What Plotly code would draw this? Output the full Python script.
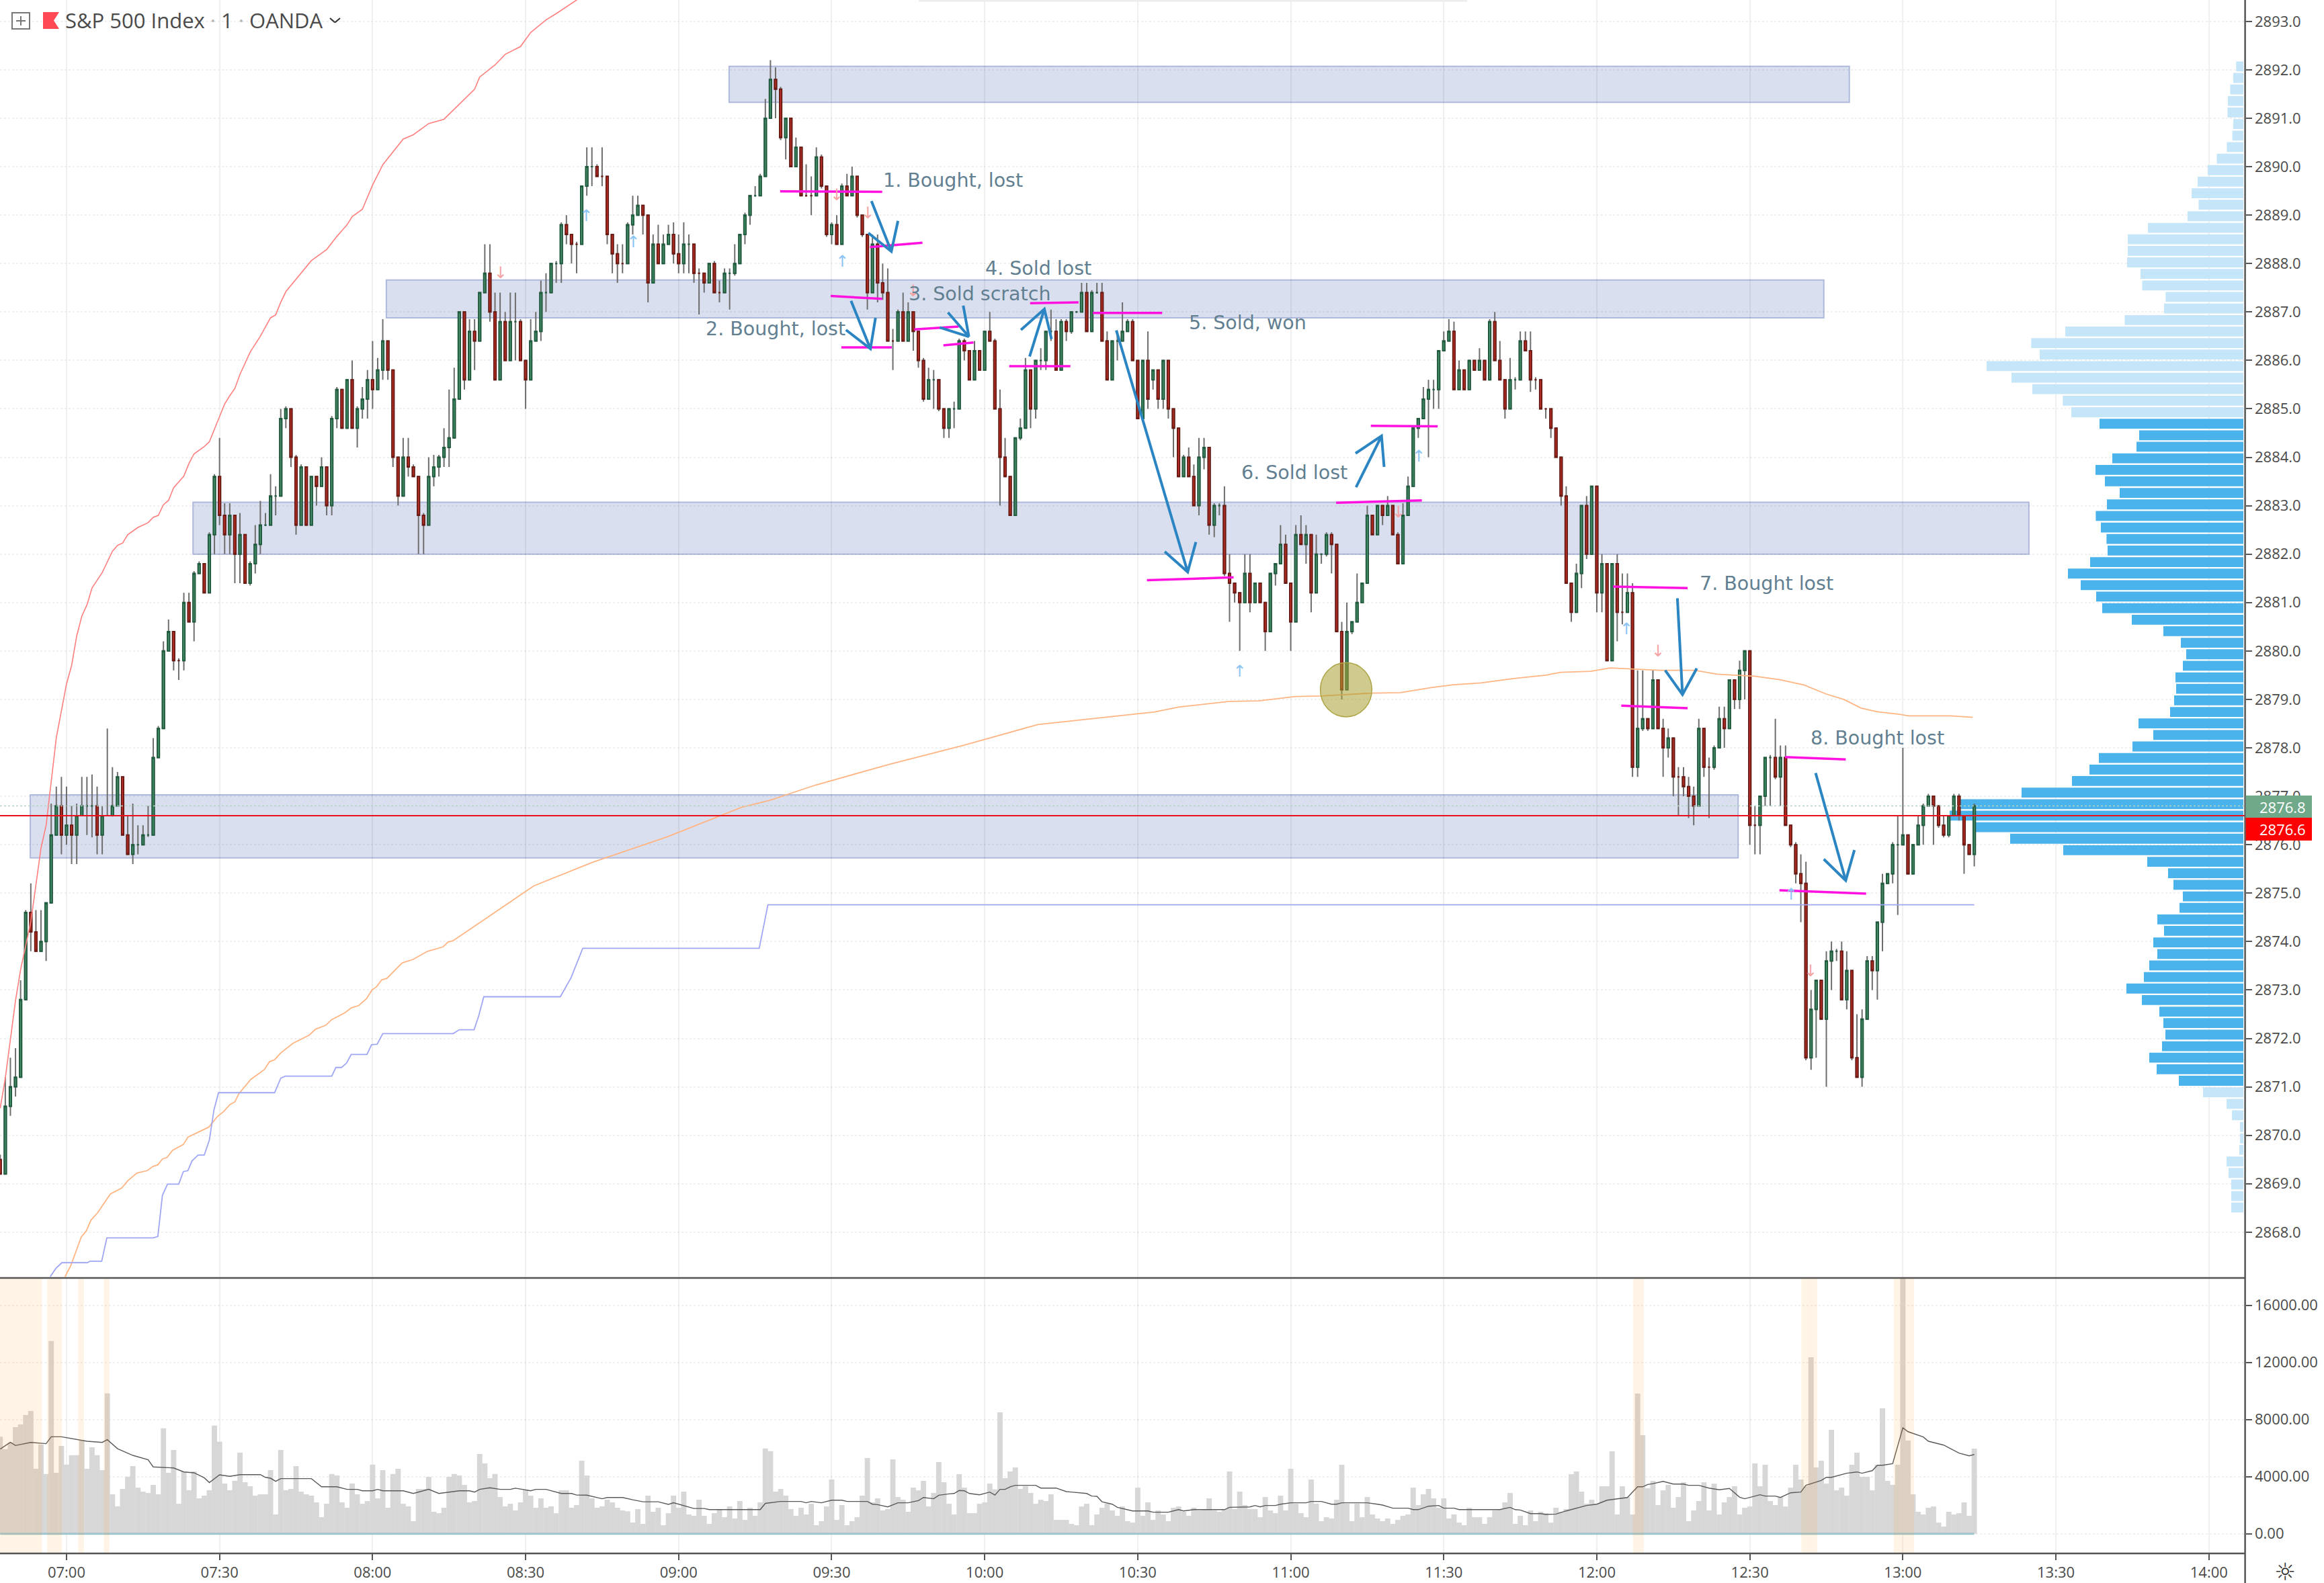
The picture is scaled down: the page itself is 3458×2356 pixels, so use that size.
import plotly.graph_objects as go

W, H = 3458, 2356
AXIS_X, PANE_Y, BOTTOM_Y = 3340.6, 1902, 2312
FONT = "Open Sans"

opens = [
2869.5,2869.2,2870.6,2871.0,2871.2,2872.8,2874.6,2874.2,2873.8,2874.0,
2874.8,2876.2,2876.8,2876.2,2876.4,2876.2,2876.6,2876.8,2876.8,2876.8,
2876.2,2876.6,2876.6,2876.8,2877.4,2876.2,2875.8,2876.0,2876.0,2876.2,
2876.2,2877.8,2878.4,2880.0,2880.4,2879.8,2879.8,2881.0,2880.6,2881.6,
2881.8,2881.2,2882.4,2883.6,2882.8,2882.4,2882.8,2882.0,2882.4,2881.4,
2881.8,2882.2,2882.6,2882.6,2883.2,2883.2,2884.8,2885.0,2884.0,2882.6,
2883.8,2882.6,2883.6,2883.4,2883.8,2883.0,2884.8,2885.4,2884.6,2885.6,
2884.6,2885.0,2885.2,2885.6,2885.4,2885.8,2886.4,2885.8,2884.0,2883.2,
2884.0,2883.8,2883.6,2882.8,2882.6,2883.6,2883.8,2884.0,2884.2,2884.4,
2885.2,2887.0,2885.6,2886.6,2886.4,2887.4,2887.8,2887.0,2885.6,2886.8,
2886.0,2886.8,2886.8,2886.0,2885.6,2886.4,2886.6,2887.4,2887.4,2888.0,
2888.0,2888.8,2888.6,2888.4,2888.4,2889.6,2890.0,2890.0,2889.8,2889.8,
2888.6,2888.2,2888.0,2888.0,2888.8,2889.0,2889.2,2889.0,2887.6,2888.4,
2888.0,2888.4,2888.6,2888.2,2888.0,2888.4,2888.4,2887.8,2887.8,2887.6,
2888.0,2887.4,2887.4,2887.8,2887.8,2888.0,2888.6,2889.0,2889.4,2889.4,
2889.8,2891.0,2891.8,2891.6,2890.6,2891.0,2890.0,2890.4,2889.4,2889.4,
2889.4,2890.2,2889.6,2888.6,2888.8,2888.4,2889.6,2889.4,2889.8,2889.0,
2888.6,2887.4,2888.4,2887.6,2887.4,2886.4,2886.4,2887.0,2886.4,2887.0,
2886.6,2886.0,2885.2,2885.6,2885.6,2885.0,2884.6,2885.0,2885.0,2886.4,
2886.2,2885.6,2886.2,2885.8,2886.6,2886.4,2885.0,2884.0,2883.6,2882.8,
2884.4,2884.6,2885.8,2885.0,2886.0,2886.0,2886.6,2886.6,2885.8,2886.8,
2886.6,2887.0,2887.0,2887.4,2886.6,2887.4,2887.4,2886.4,2885.6,2886.4,
2886.4,2886.6,2886.8,2886.0,2884.8,2886.0,2885.6,2885.8,2885.2,2886.0,
2885.0,2884.6,2883.6,2884.0,2883.6,2883.0,2884.0,2884.2,2882.6,2883.0,
2883.0,2881.6,2881.4,2881.2,2881.0,2881.6,2881.0,2881.4,2881.0,2880.4,
2881.6,2881.8,2882.2,2881.4,2880.6,2882.4,2882.2,2882.4,2881.2,2882.0,
2882.0,2882.4,2882.2,2880.4,2879.2,2880.4,2880.6,2881.0,2881.4,2882.8,
2882.4,2883.0,2882.8,2883.0,2882.4,2881.8,2882.8,2883.4,2884.6,2884.8,
2885.2,2885.4,2885.4,2886.2,2886.4,2886.6,2885.4,2885.8,2885.4,2886.0,
2885.8,2886.0,2885.6,2886.8,2886.0,2885.6,2885.0,2885.6,2885.6,2886.4,
2886.2,2885.6,2885.6,2885.0,2885.0,2884.6,2884.0,2883.2,2881.4,2880.8,
2881.6,2883.0,2882.0,2883.4,2881.2,2881.8,2879.8,2881.8,2880.8,2880.8,
2881.2,2877.6,2878.4,2878.6,2878.4,2879.4,2878.4,2878.0,2878.2,2877.4,
2877.4,2877.2,2877.0,2876.8,2878.4,2877.6,2877.6,2878.0,2878.6,2878.4,
2879.4,2879.0,2879.6,2880.0,2876.4,2876.4,2877.0,2877.8,2877.8,2877.4,
2877.8,2876.4,2876.0,2875.4,2875.2,2871.6,2872.6,2873.2,2872.4,2873.6,
2873.8,2873.8,2872.8,2873.4,2871.6,2871.2,2872.4,2873.6,2873.4,2874.4,
2875.2,2875.4,2876.0,2876.0,2876.2,2875.4,2876.0,2876.4,2876.8,2877.0,
2876.8,2876.4,2876.2,2876.6,2877.0,2876.6,2876.0,2875.8]

highs = [
2869.6,2871.2,2871.6,2871.8,2873.2,2874.65,2875.2,2874.65,2874.65,2874.8,
2876.85,2877.2,2877.4,2877.2,2876.8,2876.85,2877.4,2877.4,2877.45,2877.2,
2876.8,2878.4,2877.6,2877.5,2877.4,2876.6,2876.85,2876.4,2876.4,2876.8,
2878.2,2878.45,2880.2,2880.65,2880.4,2879.85,2881.2,2881.2,2881.65,2881.85,
2881.8,2882.45,2883.65,2884.4,2883.05,2883.05,2882.8,2882.85,2882.4,2881.85,
2882.6,2883.1,2882.85,2883.65,2883.4,2885.0,2885.05,2885.0,2884.05,2883.85,
2883.8,2883.6,2883.6,2884.0,2883.8,2884.85,2885.45,2885.4,2885.6,2886.0,
2885.05,2885.45,2885.8,2886.4,2886.05,2886.85,2886.4,2885.8,2884.0,2884.4,
2884.4,2883.85,2883.6,2882.85,2884.0,2884.05,2884.05,2884.6,2885.4,2885.85,
2887.0,2887.0,2886.85,2886.85,2887.4,2888.4,2888.4,2887.4,2887.4,2887.0,
2887.4,2887.4,2886.85,2886.0,2886.85,2887.0,2887.65,2887.8,2888.0,2888.05,
2888.85,2889.0,2888.6,2888.45,2889.6,2890.4,2890.4,2890.05,2890.4,2889.8,
2888.6,2888.4,2888.4,2888.85,2889.4,2889.4,2889.2,2889.0,2888.6,2888.8,
2888.6,2888.8,2888.85,2888.6,2888.85,2888.6,2888.4,2887.9,2887.8,2888.0,
2888.05,2887.65,2887.9,2887.9,2888.4,2888.6,2889.05,2889.4,2889.6,2889.85,
2891.4,2892.2,2892.05,2891.65,2891.0,2891.0,2890.6,2890.4,2890.05,2889.8,
2890.4,2890.25,2889.6,2888.85,2889.0,2889.65,2889.85,2890.0,2889.8,2889.0,
2888.6,2888.6,2888.6,2888.0,2887.9,2886.65,2887.05,2887.4,2887.2,2887.0,
2886.6,2886.05,2885.85,2885.8,2885.6,2885.0,2885.0,2885.15,2886.45,2886.45,
2886.2,2886.4,2886.2,2886.6,2887.0,2886.45,2885.4,2884.4,2883.6,2884.4,
2884.8,2886.05,2885.8,2886.0,2886.25,2886.6,2887.05,2886.85,2886.85,2886.85,
2887.0,2887.0,2887.6,2887.6,2887.45,2887.6,2887.6,2886.6,2886.4,2886.6,
2887.2,2886.85,2886.85,2886.0,2886.0,2886.6,2885.8,2885.8,2886.0,2886.0,
2885.0,2884.6,2884.05,2884.2,2883.85,2884.4,2884.4,2884.2,2883.05,2883.05,
2883.4,2882.0,2881.4,2881.2,2882.0,2882.0,2881.4,2881.4,2881.0,2881.6,
2881.8,2882.6,2882.4,2881.4,2882.6,2882.8,2882.6,2882.4,2882.4,2882.0,
2882.45,2882.45,2882.2,2880.6,2881.0,2880.6,2881.6,2881.4,2883.0,2882.8,
2883.0,2883.0,2883.2,2883.0,2882.45,2883.05,2883.6,2884.6,2884.8,2885.45,
2885.6,2885.6,2886.2,2886.6,2886.85,2886.8,2886.0,2885.8,2886.0,2886.0,
2886.25,2886.0,2886.85,2887.0,2886.4,2885.6,2886.05,2885.65,2886.6,2886.6,
2886.6,2885.65,2885.6,2885.0,2885.0,2884.6,2884.0,2883.4,2881.4,2881.8,
2883.0,2883.2,2883.4,2883.4,2882.0,2881.8,2881.8,2882.0,2881.6,2881.6,
2881.4,2879.6,2879.6,2878.6,2879.6,2879.4,2878.6,2878.4,2878.2,2877.6,
2877.6,2877.4,2877.2,2878.6,2878.4,2877.8,2878.05,2878.85,2878.85,2879.4,
2879.4,2879.8,2880.0,2880.0,2876.8,2877.0,2877.8,2877.85,2878.6,2878.05,
2878.05,2876.4,2876.05,2875.8,2875.65,2873.0,2873.2,2873.2,2873.8,2874.0,
2873.85,2874.0,2873.8,2873.4,2872.5,2872.6,2873.7,2873.7,2874.4,2875.4,
2875.4,2876.05,2876.6,2878.0,2876.2,2876.0,2876.6,2876.85,2877.05,2877.0,
2876.8,2876.6,2876.6,2877.05,2877.05,2876.6,2876.0,2876.85]

lows = [
2869.2,2869.2,2870.4,2870.8,2871.2,2872.8,2873.8,2873.8,2873.8,2873.6,
2874.8,2876.2,2875.8,2876.0,2875.6,2875.6,2876.6,2876.2,2876.15,2875.8,
2875.8,2876.6,2876.58,2876.8,2876.2,2875.8,2875.6,2875.8,2876.0,2876.16,
2876.2,2877.8,2878.4,2880.0,2879.6,2879.4,2879.6,2880.6,2880.2,2881.6,
2881.2,2881.2,2882.0,2882.6,2882.0,2882.0,2881.4,2881.4,2881.4,2881.35,
2881.6,2882.0,2882.58,2882.6,2882.8,2883.2,2884.6,2883.8,2882.4,2882.6,
2882.6,2882.6,2883.0,2883.4,2882.8,2882.8,2884.6,2884.6,2884.6,2884.6,
2884.2,2884.8,2884.8,2885.0,2885.4,2885.6,2885.6,2883.8,2883.0,2883.2,
2883.6,2883.6,2882.0,2882.0,2882.6,2883.4,2883.6,2883.8,2883.8,2884.4,
2885.2,2885.4,2885.6,2885.8,2886.4,2887.4,2886.8,2885.6,2885.6,2886.0,
2886.0,2886.0,2886.0,2885.0,2885.6,2886.4,2886.4,2887.0,2887.4,2887.6,
2887.6,2888.4,2888.0,2887.8,2888.4,2889.4,2889.6,2889.8,2889.6,2888.4,
2887.8,2887.6,2887.8,2888.0,2888.6,2889.0,2888.6,2887.2,2887.6,2888.0,
2888.0,2888.4,2888.0,2887.8,2887.8,2887.8,2887.6,2886.95,2887.4,2887.6,
2887.4,2887.2,2887.4,2887.05,2887.75,2888.0,2888.4,2888.8,2889.38,2889.4,
2889.8,2891.0,2891.0,2890.55,2890.15,2890.0,2890.0,2889.4,2889.38,2889.0,
2889.4,2889.55,2888.55,2888.4,2888.4,2888.4,2889.4,2889.4,2888.95,2888.55,
2887.05,2887.4,2887.2,2887.25,2886.4,2885.8,2886.4,2886.4,2886.4,2886.2,
2885.85,2885.15,2885.2,2885.0,2884.95,2884.4,2884.4,2884.6,2885.0,2886.0,
2885.6,2885.6,2885.8,2885.8,2886.4,2885.0,2883.0,2883.6,2882.8,2882.8,
2884.35,2884.6,2884.6,2884.8,2885.8,2885.8,2886.4,2885.8,2885.8,2886.4,
2886.55,2886.98,2887.0,2886.6,2886.6,2887.38,2886.4,2885.6,2885.6,2886.0,
2886.4,2886.6,2886.0,2884.8,2884.8,2885.0,2885.4,2885.0,2885.0,2884.8,
2884.0,2883.6,2883.6,2883.6,2883.0,2882.8,2883.75,2882.4,2882.35,2882.8,
2881.55,2880.6,2881.0,2880.0,2881.0,2880.8,2881.0,2881.0,2880.0,2880.4,
2881.35,2881.8,2881.4,2880.0,2880.6,2882.2,2881.8,2880.8,2881.2,2881.8,
2881.95,2881.6,2880.4,2879.0,2879.2,2880.35,2880.6,2881.0,2881.4,2882.4,
2882.4,2882.6,2882.8,2882.4,2881.8,2881.8,2882.8,2883.4,2884.4,2884.8,
2884.0,2885.0,2885.0,2886.2,2886.4,2885.4,2885.4,2885.4,2885.4,2885.8,
2885.8,2885.6,2885.6,2886.0,2885.6,2884.8,2885.0,2885.4,2885.6,2886.2,
2885.35,2885.4,2885.0,2884.8,2884.4,2884.0,2883.0,2881.4,2880.6,2880.8,
2881.3,2881.9,2882.0,2880.8,2880.8,2879.8,2879.8,2880.2,2880.55,2880.8,
2877.4,2877.4,2878.35,2878.35,2878.4,2878.4,2877.4,2877.8,2877.0,2876.6,
2877.0,2876.55,2876.4,2876.8,2877.4,2876.55,2877.55,2878.0,2878.0,2878.4,
2878.8,2878.8,2879.0,2876.0,2875.8,2875.8,2876.8,2876.8,2877.35,2876.8,
2876.4,2875.95,2875.2,2874.4,2871.55,2871.35,2871.6,2872.4,2871.0,2873.0,
2873.6,2872.8,2872.6,2871.55,2871.2,2871.0,2872.4,2873.0,2872.8,2873.8,
2875.2,2875.2,2874.55,2876.0,2875.38,2875.38,2876.0,2876.0,2876.8,2876.0,
2876.35,2876.15,2876.15,2876.6,2876.5,2875.4,2875.8,2875.55]

closes = [
2869.2,2870.6,2871.0,2871.2,2872.8,2874.6,2874.2,2873.8,2874.0,2874.8,
2876.2,2876.8,2876.2,2876.4,2876.2,2876.6,2876.8,2876.8,2876.8,2876.2,
2876.6,2876.6,2876.8,2877.4,2876.2,2875.8,2876.0,2876.0,2876.2,2876.2,
2877.8,2878.4,2880.0,2880.4,2879.8,2879.8,2881.0,2880.6,2881.6,2881.8,
2881.2,2882.4,2883.6,2882.8,2882.4,2882.8,2882.0,2882.4,2881.4,2881.8,
2882.2,2882.6,2882.6,2883.2,2883.2,2884.8,2885.0,2884.0,2882.6,2883.8,
2882.6,2883.6,2883.4,2883.8,2883.0,2884.8,2885.4,2884.6,2885.6,2884.6,
2885.0,2885.2,2885.6,2885.4,2885.8,2886.4,2885.8,2884.0,2883.2,2884.0,
2883.8,2883.6,2882.8,2882.6,2883.6,2883.8,2884.0,2884.2,2884.4,2885.2,
2887.0,2885.6,2886.6,2886.4,2887.4,2887.8,2887.0,2885.6,2886.8,2886.0,
2886.8,2886.8,2886.0,2885.6,2886.4,2886.6,2887.4,2887.4,2888.0,2888.0,
2888.8,2888.6,2888.4,2888.4,2889.6,2890.0,2890.0,2889.8,2889.8,2888.6,
2888.2,2888.0,2888.0,2888.8,2889.0,2889.2,2889.0,2887.6,2888.4,2888.0,
2888.4,2888.6,2888.2,2888.0,2888.4,2888.4,2887.8,2887.8,2887.6,2888.0,
2887.4,2887.4,2887.8,2887.8,2888.0,2888.6,2889.0,2889.4,2889.4,2889.8,
2891.0,2891.8,2891.6,2890.6,2891.0,2890.0,2890.4,2889.4,2889.4,2889.4,
2890.2,2889.6,2888.6,2888.8,2888.4,2889.6,2889.4,2889.8,2889.0,2888.6,
2887.4,2888.4,2887.6,2887.4,2886.4,2886.4,2887.0,2886.4,2887.0,2886.6,
2886.0,2885.2,2885.6,2885.6,2885.0,2884.6,2885.0,2885.0,2886.4,2886.2,
2885.6,2886.2,2885.8,2886.6,2886.4,2885.0,2884.0,2883.6,2882.8,2884.4,
2884.6,2885.8,2885.0,2886.0,2886.0,2886.6,2886.6,2885.8,2886.8,2886.6,
2887.0,2887.0,2887.4,2886.6,2887.4,2887.4,2886.4,2885.6,2886.4,2886.4,
2886.6,2886.8,2886.0,2884.8,2886.0,2885.2,2885.8,2885.2,2886.0,2885.0,
2884.6,2883.6,2884.0,2883.6,2883.0,2884.0,2884.2,2882.6,2883.0,2883.0,
2881.6,2881.4,2881.2,2881.0,2881.6,2881.0,2881.4,2881.0,2880.4,2881.6,
2881.8,2882.2,2881.4,2880.6,2882.4,2882.2,2882.4,2881.2,2882.0,2882.0,
2882.4,2882.2,2880.4,2879.2,2880.4,2880.6,2881.0,2881.4,2882.8,2882.4,
2883.0,2882.8,2883.0,2882.4,2881.8,2882.8,2883.4,2884.6,2884.8,2885.2,
2885.4,2885.4,2886.2,2886.4,2886.6,2885.4,2885.8,2885.4,2886.0,2885.8,
2886.0,2885.6,2886.8,2886.0,2885.6,2885.0,2885.6,2885.6,2886.4,2886.2,
2885.6,2885.6,2885.0,2885.0,2884.6,2884.0,2883.2,2881.4,2880.8,2881.6,
2883.0,2882.0,2883.4,2881.2,2881.8,2879.8,2881.8,2880.8,2880.8,2881.2,
2877.6,2878.4,2878.6,2878.4,2879.4,2878.4,2878.0,2878.2,2877.4,2877.4,
2877.2,2877.0,2876.8,2878.4,2877.6,2877.6,2878.0,2878.6,2878.4,2879.4,
2879.0,2879.6,2880.0,2876.4,2876.4,2877.0,2877.8,2877.8,2877.4,2877.8,
2876.4,2876.0,2875.4,2875.2,2871.6,2872.6,2873.2,2872.4,2873.6,2873.8,
2873.8,2872.8,2873.4,2871.6,2871.2,2872.4,2873.6,2873.4,2874.4,2875.2,
2875.4,2876.0,2876.0,2876.2,2875.4,2876.0,2876.4,2876.8,2877.0,2876.8,
2876.4,2876.2,2876.6,2877.0,2876.6,2876.0,2875.8,2876.8]

volumes = [
6800,5930,6400,7470,7660,8320,8600,4550,6250,4180,13500,4270,6150,4840,5500,5500,6560,4550,6060,5500,
4460,9830,2760,1920,3140,3990,4740,3230,2950,2860,3420,2760,7380,4270,5870,2100,4360,3050,4360,2480,
2670,3050,7570,6440,3520,3050,3710,5680,3610,3330,2670,2760,2760,4460,1350,5870,3050,3140,4740,2950,
2760,2670,2200,1160,2100,4180,4080,2200,1820,3520,2760,2100,2290,4840,2480,4460,1820,4180,4550,2100,
1920,880,3140,3140,3990,1540,1440,1820,3990,4180,4080,3420,2200,2290,5590,4930,3890,4180,2570,1920,
2100,1630,2200,3080,2670,1820,2480,1820,1920,1440,3050,3050,1820,2010,5120,4080,2480,1820,1920,2390,
2200,1820,1630,1570,790,1730,690,2670,1540,1820,600,1440,2670,1820,2950,1350,1260,2390,1260,690,
1440,1730,1160,1920,1070,2290,970,1820,1260,2200,5970,5780,
2950,3140,2670,1730,1260,1820,1350,2100,600,880,1910,3800,970,2010,600,880,1160,2670,5300,2200,
2480,1630,1730,5210,2570,2380,1540,3230,3040,3700,1910,2860,5020,3610,2100,1350,4170,3230,1440,1440,
2100,2200,3510,3110,8500,3890,4360,4640,3140,3330,2860,2100,2380,2290,2760,970,970,970,690,600,
1910,2100,600,1350,1820,2100,1630,1260,1910,880,780,3230,1260,2200,970,1630,1350,880,1820,1910,
1540,1260,1820,1630,1730,2480,1630,1540,1730,4360,1730,2950,2010,1730,1730,1160,2570,1630,1440,2670,
1630,4550,2100,1440,1160,3800,2100,880,1160,1070,2380,4830,2100,880,2100,1160,2570,1350,1070,880,
1070,690,970,1260,1350,3230,2010,2760,3140,2480,1820,2480,1070,1350,780,600,1820,1160,1160,690,
1160,1630,1730,2200,2860,690,1260,600,1630,880,1540,1440,
780,1820,1540,1730,4170,4360,2950,2100,2380,2100,3330,3330,5770,1350,3330,2570,1350,9820,6900,3180,
3700,2010,3040,3420,1820,2570,3610,880,1630,2290,3610,1630,3510,1350,2200,2570,3330,1350,1820,1910,
4930,3330,4830,2290,2010,2570,1910,3230,4830,3800,3330,12360,4640,5110,3510,7280,3040,3230,2670,4830,
5680,3990,3990,3040,4830,8790,3700,3420,4830,19000,6530,2760,1540,1350,1820,1910,780,500,1540,1350,
1440,2200,1260,5960]

vol_ma_index = [0,2,3,6,9,10,12,15,17,20,21,23,26,29,30,34,36,38,40,41,43,45,47,51,52,53,54,55,61,63,66,68,70,71,73,74,75,79,81,84,86,90,92,93,94,96,98,100,101,104,105,107,110,112,113,115,118,119,122,124,126,129,131,132,136,138,139,149,150,
153,157,158,159,161,163,165,166,170,171,172,174,176,178,180,181,183,184,186,187,188,189,190,192,194,195,196,197,198,199,203,204,207,209,210,213,214,215,216,218,219,222,225,226,229,231,232,234,240,241,245,246,247,248,250,251,253,256,257,259,261,262,263,268,270,271,273,276,277,278,280,282,283,285,286,294,296,297,298,300,302,
303,305,307,311,313,315,319,321,322,323,324,326,328,330,331,333,335,337,339,341,342,345,346,348,349,351,353,354,355,357,358,359,362,364,365,367,368,369,371,373,374,375,377,378,381,384,386,387]
vol_ma = [5930,6400,6180,6400,6310,6790,6790,6590,6480,6400,6590,5960,5490,5180,4680,4610,4330,4270,3920,3580,4130,4020,4140,4140,3950,3890,3670,3860,3860,3290,3290,3110,3110,3010,3010,3110,3010,3010,2820,3110,2820,3010,3010,2920,3110,3220,3110,3110,3190,3010,3110,3110,2820,2820,2710,2700,2450,2540,2540,2380,2240,2240,2060,2170,1770,1770,1690,1690,2130,
2260,2260,2170,2260,2170,2350,2350,2260,2260,2070,2040,1880,2170,2170,2320,2540,2450,2700,2790,2820,3030,3010,2820,2730,2920,2710,3110,3110,3290,3390,3390,3200,3200,2950,2920,2820,2640,2620,2240,2070,1850,1600,1600,1510,1510,1690,1600,1690,1690,1850,1880,1980,1880,1980,1980,2070,2170,2170,2260,2260,2070,2070,2170,2170,2070,2010,1790,1790,1690,1690,1930,1980,1790,1790,1690,1690,1850,1690,1660,1410,1410,
1350,1380,1600,1980,2070,2350,2540,3290,3290,3450,3510,3670,3480,3480,3390,3390,3200,3080,3170,2560,2450,2730,2640,2640,2540,2870,2920,3390,3500,3730,3950,3950,4240,4330,4240,4420,4800,4800,4910,7420,7150,7030,6780,6480,6210,5650,5460,5550]

red_line_index = [0,1,3,4,6,8,9,10,11,13,14,15,16,17,18,20,22,23,24,25,27,29,30,31,32,33,34,36,37,38,40,41,43,44,45,46,47,49,51,53,54,55,56,59,61,64,66,68,69,71,73,75,79,81,84,87,89,93,94,97,99,102,104,107,109,111,113,122]
red_line = [2870.56,2871.18,2872.78,2873.42,2874.41,2875.93,2876.4,2877.27,2878.21,2879.32,2879.7,2880.31,2880.72,2880.95,2881.3,2881.62,2882.06,2882.18,2882.23,2882.4,2882.55,2882.65,2882.76,2882.8,2883.02,2883.11,2883.37,2883.61,2883.87,2884.07,2884.22,2884.32,2884.83,2885.1,2885.27,2885.42,2885.71,2886.17,2886.5,2886.88,2886.94,2887.2,2887.42,2887.81,2888.06,2888.29,2888.56,2888.8,2888.97,2889.12,2889.62,2890.04,2890.57,2890.66,2890.89,2890.98,2891.19,2891.6,2891.85,2892.1,2892.32,2892.48,2892.77,2893.03,2893.16,2893.3,2893.44,2894.2]

orange_index = [12.7,13.8,15.9,16.9,17.8,19.1,21.6,23.8,25,26.8,28.8,30,30.9,31.8,32.7,33.8,35.9,36.8,40.9,42.6,43.8,45,46,46.8,49.1,51.8,52.8,53.8,55,57.4,60.6,61.8,63.8,65,67.6,68.8,70.3,71.8,72.9,73.8,74.8,75.8,78.8,80.9,83.8,86.8,87.8,88.8,92.2,104.6,116.2,130.7,145.3,151,159.8,174.3,188.8,203.4,226.3,231,241,246.7,253.9,258.9,263.8,268.9,274.5,280.3,284.6,290.3,296.7,303,305.9,311.8,315.6,319,325.4,332.2,336.6,340,343.9,348.7,353.6,358,361.4,364.8,367.7,372.6,374,382.3,386.7]
orange_line = [2867.08,2867.3,2867.9,2868.03,2868.25,2868.4,2868.79,2868.91,2869.06,2869.22,2869.27,2869.36,2869.39,2869.51,2869.54,2869.69,2869.81,2869.96,2870.17,2870.39,2870.49,2870.63,2870.69,2870.86,2871.15,2871.36,2871.52,2871.56,2871.7,2871.9,2872.07,2872.19,2872.27,2872.39,2872.53,2872.63,2872.68,2872.82,2873,2873.07,2873.21,2873.24,2873.56,2873.63,2873.8,2873.89,2873.99,2874.02,2874.26,2875.15,2875.64,2876.16,2876.77,2876.92,2877.23,2877.66,2878.05,2878.48,2878.74,2878.84,2878.96,2878.97,2879.06,2879.07,2879.1,2879.13,2879.14,2879.24,2879.3,2879.34,2879.43,2879.5,2879.56,2879.58,2879.65,2879.63,2879.6,2879.6,2879.52,2879.5,2879.48,2879.41,2879.3,2879.11,2879,2878.82,2878.75,2878.69,2878.66,2878.66,2878.63]

blue_index = [9.8,10.9,12.1,17.1,17.6,19.9,20.9,30,30.9,31.8,32.8,35,35.9,36.8,37.6,38.8,40,41,41.9,42.8,53.8,55,55.9,65,65.8,66.9,67.9,68.8,71.9,72.8,73.9,75,88.8,90,92.9,93.8,94.8,109.8,111.9,114.2,148.8,150.5,387]
blue_line = [2867.08,2867.25,2867.37,2867.37,2867.4,2867.4,2867.88,2867.88,2867.91,2868.76,2868.99,2868.99,2869.25,2869.27,2869.47,2869.59,2869.59,2869.9,2870.52,2870.88,2870.88,2871.18,2871.22,2871.22,2871.4,2871.4,2871.49,2871.67,2871.67,2871.87,2871.88,2872.1,2872.1,2872.18,2872.18,2872.46,2872.86,2872.86,2873.25,2873.86,2873.86,2874.76,2874.76]

profile_top_price, profile_step = 2892.07, 0.238
profile_volume = [10.7,15,19.6,23,23.5,15,16.4,24.6,39.5,53,68,76.9,66.6,83,142,172,172,173,153,150.5,115.7,118,176.5,265,315.7,303,382,345,314,268.7,256,
214,155,159,195,220,206,184,203,219.6,212,203.6,202,228,261,
242,219,210,166,119,93,85,90,101,100,103,109,156,134,165,215,229,255,330,424,437,399,347,268,143,112,104,90,95,128,118,134,128,140,148,174,151,125,119,116,121,140,129,96,
60,25,17,5,5,6,25,22,18,18,18]
value_area = (31, 89)

time_ticks = [13,43,73,103,133,163,193,223,253,283,313,343,373,403,433]
time_labels = ["07:00","07:30","08:00","08:30","09:00","09:30","10:00","10:30","11:00","11:30","12:00","12:30","13:00","13:30","14:00"]
price_ticks = list(range(2868, 2894))
vol_ticks = [0,4000,8000,12000,16000]
vol_labels = ["0.00","4000.00","8000.00","12000.00","16000.00"]

zones = [(142.9,362.5,2892.07,2891.33),(75.7,357.5,2887.66,2886.88),(37.8,397.7,2883.07,2882.0),(5.9,340.7,2877.03,2875.73)]
volume_bands = [(-0.5,8.2),(9.2,12.1),(15.3,16.4),(20.3,21.4),(320.1,322.2),(353.1,356.2),(371.2,375.2)]
last_price, last_close_label = 2876.6, 2876.8

entry_lines = [
(152.9,2889.49,172.9,2889.48),(170.5,2888.34,180.8,2888.43),(162.8,2887.33,172.9,2887.27),(164.9,2886.27,174.8,2886.27),
(179.2,2886.64,187.9,2886.70),(184.9,2886.31,190.8,2886.37),(197.8,2885.88,209.8,2885.88),(201.9,2887.18,211.4,2887.20),
(214.2,2886.98,227.8,2886.98),(224.8,2881.46,241.8,2881.52),(261.9,2883.06,278.7,2883.11),(268.7,2884.65,281.8,2884.64),
(316.2,2881.33,330.8,2881.30),(317.8,2878.87,330.8,2878.82),(349.9,2877.81,361.8,2877.76),(348.8,2875.06,365.8,2874.99)]

# start, tip, head a, head b
trade_arrows = [
((170.8,2889.29),(174.7,2888.25),(170.2,2888.63),(176.0,2888.88)),
((166.8,2887.23),(170.6,2886.24),(165.8,2886.63),(171.6,2886.88)),
((188.8,2887.13),(189.9,2886.49),(185.8,2886.99),(184.2,2886.68)),
((201.8,2886.08),(204.7,2887.06),(200.1,2886.63),(206.1,2886.44)),
((218.8,2886.62),(232.8,2881.63),(228.3,2882.05),(234.4,2882.25)),
((265.8,2883.38),(270.8,2884.44),(265.7,2884.08),(271.3,2883.80)),
((328.8,2881.09),(329.8,2879.10),(326.4,2879.60),(332.6,2879.64)),
((355.9,2877.48),(361.8,2875.26),(357.5,2875.70),(363.5,2875.89))]

trade_notes = [("1. Bought, lost",172.8,2889.71),("2. Bought, lost",138,2886.65),("3. Sold scratch",177.8,2887.37),("4. Sold lost",192.9,2887.9),
("5. Sold, won",232.8,2886.77),("6. Sold lost",243,2883.68),("7. Bought lost",332.9,2881.39),("8. Bought lost",354.7,2878.2)]

up_marks_i = [114.9,124.1,165.1,243,278.1,318.8,351.1]
up_marks_p = [2888.96,2888.42,2888.02,2879.55,2883.99,2880.43,2874.95]
down_marks_i = [98.1,164,170.1,179,274.1,325,354.9]
down_marks_p = [2887.78,2889.39,2889.02,2887.41,2882.84,2879.97,2873.37]

circle_mark = (258.8,268.9,2878.64,2879.76)

n = len(opens)
if not (n == len(highs) == len(lows) == len(closes) == len(volumes) == 388 and len(vol_ma) == len(vol_ma_index)
        and len(red_line) == len(red_line_index) and len(orange_line) == len(orange_index) and len(blue_line) == len(blue_index)):
    raise ValueError(f"lens {n} {len(highs)} {len(lows)} {len(closes)} {len(volumes)} ma {len(vol_ma)}/{len(vol_ma_index)} red {len(red_line)}/{len(red_line_index)} or {len(orange_line)}/{len(orange_index)} bl {len(blue_line)}/{len(blue_index)}")

minute_index = list(range(n))
PX_PER_MIN = 7.59
PX0 = 0.3
PRICE_TOP = 2882 + 824.7 / 72.08
PRICE_BOT = 2882 - (PANE_Y - 824.7) / 72.08
VOL_PER_PX = 1 / 0.02125
VOL_TOP = (2282.7 - PANE_Y) * VOL_PER_PX
VOL_BOT = (2282.7 - BOTTOM_Y) * VOL_PER_PX
X_MAX = (AXIS_X - PX0) / PX_PER_MIN
X_MIN = -PX0 / PX_PER_MIN

def fx(px): return px / W
def fy(py): return 1 - py / H

fig = go.Figure()

# volume profile (drawn first, below the candles)
profile_prices = [round(profile_top_price - profile_step * k, 3) for k in range(len(profile_volume))]
PROFILE_BASE = (3338 - PX0) / PX_PER_MIN
fig.add_trace(go.Bar(
    y=profile_prices, x=[-v / PX_PER_MIN for v in profile_volume], base=PROFILE_BASE, orientation="h",
    width=0.205, xaxis="x", yaxis="y",
    marker=dict(color=["#4BB3EB" if value_area[0] <= k < value_area[1] else "#C5E5F8" for k in range(len(profile_volume))], line_width=0),
    hoverinfo="skip", showlegend=False))

# wicks
fig.add_trace(go.Candlestick(
    x=minute_index, open=opens, high=highs, low=lows, close=closes, whiskerwidth=0,
    increasing=dict(line=dict(color="#6E6E6E", width=2), fillcolor="#6E6E6E"),
    decreasing=dict(line=dict(color="#6E6E6E", width=2), fillcolor="#6E6E6E"),
    hoverinfo="skip", showlegend=False))
# bodies
fig.add_trace(go.Candlestick(
    x=minute_index, open=opens, close=closes,
    high=[max(a, b) for a, b in zip(opens, closes)], low=[min(a, b) for a, b in zip(opens, closes)], whiskerwidth=0,
    increasing=dict(line=dict(color="#1F5C3E", width=2), fillcolor="#5A9F7D"),
    decreasing=dict(line=dict(color="#6E1A14", width=2), fillcolor="#D5382C"),
    hoverinfo="skip", showlegend=False))

def line(x, y, color, width, dash=None, yaxis="y"):
    fig.add_trace(go.Scatter(x=x, y=y, mode="lines", xaxis="x", yaxis=yaxis, hoverinfo="skip", showlegend=False,
                             line=dict(color=color, width=width, dash=dash)))

line(red_line_index, red_line, "#FF7F7F", 1.6)
line(orange_index, orange_line, "#FFB583", 1.8)
line(blue_index, blue_line, "#A0A6F4", 1.8)
line([X_MIN, X_MAX], [last_close_label] * 2, "#B4D3C2", 1.5, "dot")
line([X_MIN, X_MAX], [last_price] * 2, "#E8101C", 2)

for x0, p0, x1, p1 in entry_lines:
    line([x0, x1], [p0, p1], "#FF12E0", 3.5)
for s, t, a, b in trade_arrows:
    line([s[0], t[0], None, a[0], t[0], b[0]], [s[1], t[1], None, a[1], t[1], b[1]], "#2B85C3", 4)

fig.add_trace(go.Scatter(x=up_marks_i, y=up_marks_p, mode="text", text=["↑"] * len(up_marks_i), hoverinfo="skip", showlegend=False,
                         textfont=dict(family="DejaVu Sans", size=24, color="#8CC4F4")))
fig.add_trace(go.Scatter(x=down_marks_i, y=down_marks_p, mode="text", text=["↓"] * len(down_marks_i), hoverinfo="skip", showlegend=False,
                         textfont=dict(family="DejaVu Sans", size=24, color="#F5A3A3")))

# volume pane
fig.add_trace(go.Bar(x=minute_index, y=volumes, width=1.04, xaxis="x", yaxis="y2",
                     marker=dict(color="#D7D7D7", line_width=0), hoverinfo="skip", showlegend=False))
line([minute_index[0], minute_index[-1]], [0, 0], "#9FC5CE", 3, yaxis="y2")
line(vol_ma_index, vol_ma, "#5A5A5A", 1.4, yaxis="y2")

shapes = []
for x0, x1, p_top, p_bot in zones:
    shapes.append(dict(type="rect", xref="x", yref="y", x0=x0, x1=x1, y0=p_bot, y1=p_top, layer="below",
                       fillcolor="rgba(140,155,205,0.32)", line=dict(color="#AEB9DC", width=2)))
shapes.append(dict(type="circle", xref="x", yref="y", x0=circle_mark[0], x1=circle_mark[1], y0=circle_mark[2], y1=circle_mark[3],
                   fillcolor="rgba(168,158,48,0.55)", line=dict(color="#ADA444", width=1.5), layer="above"))
for x0, x1 in volume_bands:
    shapes.append(dict(type="rect", xref="x", yref="paper", x0=x0, x1=x1, y0=fy(BOTTOM_Y), y1=fy(PANE_Y), layer="above",
                       fillcolor="rgba(255,152,0,0.10)", line_width=0))

# page furniture in paper coordinates
def seg(x0, y0, x1, y1, color="#555555", width=2.5):
    shapes.append(dict(type="line", xref="paper", yref="paper", x0=fx(x0), y0=fy(y0), x1=fx(x1), y1=fy(y1),
                       line=dict(color=color, width=width), layer="above"))
seg(0, PANE_Y, AXIS_X, PANE_Y)
seg(0, BOTTOM_Y, AXIS_X, BOTTOM_Y)
seg(AXIS_X, 0, AXIS_X, H)
seg(1367, 1, 2183, 1, "#EDEDED", 3)

def boxp(x0, y0, x1, y1, fill, line_c=None, lw=0):
    shapes.append(dict(type="rect", xref="paper", yref="paper", x0=fx(x0), x1=fx(x1), y0=fy(y1), y1=fy(y0),
                       fillcolor=fill, line=dict(color=line_c or fill, width=lw), layer="above"))
boxp(AXIS_X + 1, 1184, 3440, 1217, "#6FA98A")
boxp(AXIS_X + 1, 1217, 3440, 1251, "#FF0000")
boxp(18, 19, 44, 43, "rgba(0,0,0,0)", "#777777", 2)
seg(31, 24, 31, 38, "#777777", 2)
seg(24, 31, 38, 31, "#777777", 2)
# instrument flag
shapes.append(dict(type="path", xref="paper", yref="paper", layer="above", fillcolor="#FF4A56", line_width=0,
                   path=f"M{fx(64)},{fy(18)} L{fx(88)},{fy(18)} L{fx(80)},{fy(30.5)} L{fx(88)},{fy(43)} L{fx(64)},{fy(43)} Z"))
# chevron
seg(491, 27, 498.5, 33.5, "#333333", 2.2)
seg(498.5, 33.5, 506, 27, "#333333", 2.2)

anns = []
for txt, x, p in trade_notes:
    anns.append(dict(text=txt, x=x, y=p, xref="x", yref="y", xanchor="left", yanchor="middle", showarrow=False,
                     font=dict(family="DejaVu Sans", size=28.5, color="#627F91")))
DOT = '<span style="color:#B5B5B5">·</span>'
anns.append(dict(text=f"S&P 500 Index {DOT} 1 {DOT} OANDA", x=fx(95), y=fy(30), xref="paper", yref="paper",
                 xanchor="left", yanchor="middle", showarrow=False, font=dict(family=FONT, size=31, color="#4A4A4A")))
for lab, yc in ((f"{last_close_label:.1f}", 1200.5), (f"{last_price:.1f}", 1234)):
    anns.append(dict(text=lab, x=fx(3360), y=fy(yc), xref="paper", yref="paper", xanchor="left", yanchor="middle",
                     showarrow=False, font=dict(family=FONT, size=22, color="#FFFFFF")))
anns.append(dict(text="☼", x=fx(3400), y=fy(2339), xref="paper", yref="paper", xanchor="center", yanchor="middle",
                 showarrow=False, font=dict(family="DejaVu Sans", size=36, color="#333333")))

GRID_V = "rgba(42,46,57,0.07)"
GRID_H = "rgba(42,46,57,0.07)"
TICKF = dict(family=FONT, size=22, color="#4A4A4A")
fig.update_layout(
    width=W, height=H, autosize=False, margin=dict(l=0, r=0, t=0, b=0),
    paper_bgcolor="#FFFFFF", plot_bgcolor="#FFFFFF", barmode="overlay", boxgap=0.42, boxmode="overlay",
    font=dict(family=FONT, size=22, color="#4A4A4A"), showlegend=False, shapes=shapes, annotations=anns,
    xaxis=dict(domain=[0, fx(AXIS_X)], range=[X_MIN, X_MAX], anchor="y2", tickmode="array", tickvals=time_ticks, ticktext=time_labels,
               ticks="outside", ticklen=9, tickwidth=2, tickcolor="#555555", showgrid=True, gridcolor=GRID_V, gridwidth=2,
               zeroline=False, showline=False, rangeslider=dict(visible=False), tickfont=TICKF),
    yaxis=dict(domain=[fy(PANE_Y), 1], range=[PRICE_BOT, PRICE_TOP], anchor="x", side="right", tickmode="array",
               tickvals=price_ticks, ticktext=[f"{v:.1f}" for v in price_ticks], ticks="outside", ticklen=9, tickwidth=2, tickcolor="#555555",
               showgrid=True, gridcolor=GRID_H, gridwidth=1.5, griddash="dot", zeroline=False, showline=False, tickfont=TICKF),
    yaxis2=dict(domain=[fy(BOTTOM_Y), fy(PANE_Y)], range=[VOL_BOT, VOL_TOP], anchor="x", side="right", tickmode="array",
                tickvals=vol_ticks, ticktext=vol_labels, ticks="outside", ticklen=9, tickwidth=2, tickcolor="#555555",
                showgrid=True, gridcolor=GRID_H, gridwidth=1.5, griddash="dot", zeroline=False, showline=False, tickfont=TICKF),
)

fig.write_html("out.html", config={"displayModeBar": False},
               post_script="document.body.style.margin='0';document.documentElement.style.overflow='hidden';")
